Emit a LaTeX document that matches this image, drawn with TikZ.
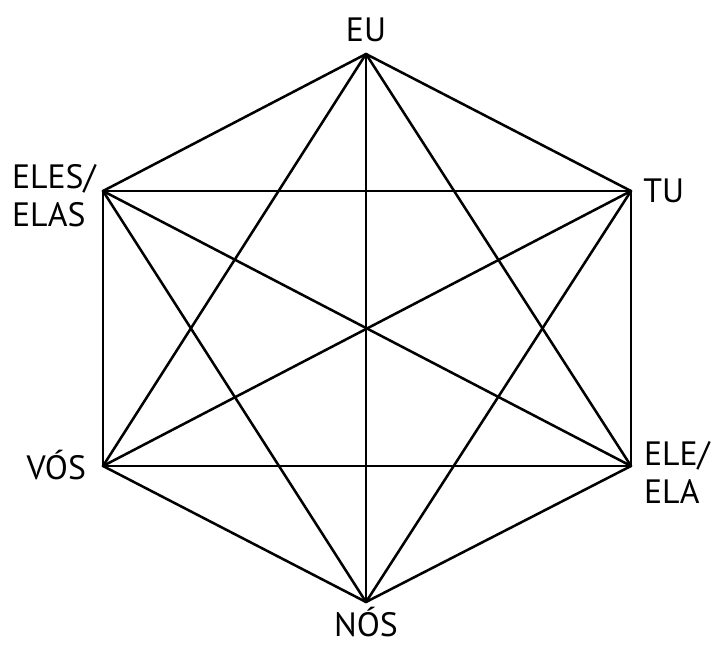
\documentclass[tikz,border=0pt]{standalone}
\usepackage{fontspec}
\setmainfont{PT Sans}
\usetikzlibrary{positioning}
\tikzset{
  edge/.style={line width=1.8pt, line join=round, line cap=round},
  lbl/.style={font=\fontsize{24}{27}\selectfont, inner sep=0pt, align=left}
}
\begin{document}
\begin{tikzpicture}[x=0.025cm, y=-0.025cm]
\useasboundingbox (0,0) rectangle (716,645);
% corners of the hexagon
\coordinate (eu)   at (366,54);
\coordinate (tu)   at (631,191);
\coordinate (ele)  at (631,466);
\coordinate (nos)  at (366,602);
\coordinate (vos)  at (103,466);
\coordinate (eles) at (103,191);
% every corner joined to every other one
\foreach \a/\b in {eu/tu,eu/ele,eu/nos,eu/vos,eu/eles,
                   tu/ele,tu/nos,tu/vos,tu/eles,
                   ele/nos,ele/vos,ele/eles,
                   nos/vos,nos/eles,vos/eles}
  \draw[edge] (\a) -- (\b);
% pronouns
\node[lbl, above=0.3cm of eu] (euL) {EU};
\node[lbl, right=0.3cm of tu] (tuL) {TU};
\node[lbl, right=0.32cm of ele, yshift=-0.15cm] (eleL) {ELE/\\ELA};
\node[lbl, anchor=base] (nosL) at ([yshift=-0.86cm]nos) {NÓS};
\node[lbl, anchor=base east] (vosL) at ([xshift=-0.42cm, yshift=-0.33cm]vos) {VÓS};
\node[lbl, left=0.18cm of eles, yshift=-0.12cm] (elesL) {ELES/\\ELAS};
\end{tikzpicture}
\end{document}
